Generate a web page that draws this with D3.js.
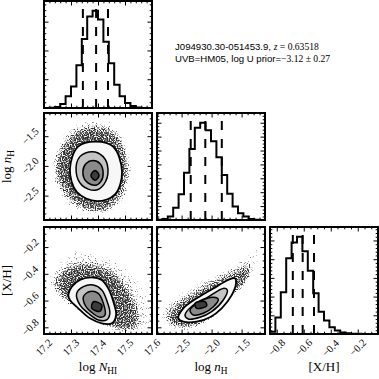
<!DOCTYPE html>
<html><head><meta charset="utf-8">
<script src="https://cdn.jsdelivr.net/npm/d3@7/dist/d3.min.js"></script>
<style>html,body{margin:0;padding:0;background:#fff}svg{display:block}</style>
</head><body>
<svg id="chart" width="379" height="379" xmlns="http://www.w3.org/2000/svg"></svg>
<script>
// ---------------- data ----------------
const rangeNHI = [17.2, 17.6];
const rangeNH  = [-2.91, -1.11];
const rangeXH  = [-0.85, -0.05];
const ticksNHI = [17.2, 17.3, 17.4, 17.5, 17.6];
const ticksNH  = [-2.5, -2.0, -1.5];
const ticksXH  = [-0.8, -0.6, -0.4, -0.2];
const labelsNHI = ["17.2", "17.3", "17.4", "17.5", "17.6"];
const labelsNH  = ["\u22122.5", "\u22122.0", "\u22121.5"];
const labelsXH  = ["\u22120.8", "\u22120.6", "\u22120.4", "\u22120.2"];
const minorStepNHI = 0.02, minorStepNH = 0.1, minorStepXH = 0.05;

// histogram counts (20 bins over each range)
const histNHI = [0, 3, 17, 68, 203, 372, 744, 1200, 1589, 1690, 1538, 1149, 777, 406, 203, 85, 34, 8, 2, 0];
const histNH  = [3, 15, 49, 175, 369, 681, 1021, 1327, 1400, 1293, 1133, 904, 647, 379, 194, 97, 49, 15, 5, 1];
const histXH  = [62, 442, 1118, 2028, 2444, 2600, 2210, 1690, 1092, 598, 364, 182, 91, 39, 21, 10, 5, 3, 0, 0];
const histTickStep = [500, 200, 500];
// 16th / 50th / 84th percentiles
const quantNHI = [17.344, 17.393, 17.437];
const quantNH  = [-2.348, -2.105, -1.83];
const quantXH  = [-0.681, -0.608, -0.524];

// 2-D panel shapes (data units): scatter extent, dense core, contour levels
const cloudA = [[17.395,-1.172],[17.481,-1.339],[17.531,-2.005],[17.506,-2.610],[17.407,-2.860],[17.271,-2.672],[17.222,-2.005],[17.284,-1.339]];
const denseA = [[17.391,-1.339],[17.469,-1.476],[17.512,-2.005],[17.481,-2.560],[17.401,-2.781],[17.296,-2.560],[17.241,-2.005],[17.303,-1.476]];
const levA1 = [[17.393,-1.593],[17.456,-1.677],[17.489,-2.094],[17.463,-2.478],[17.396,-2.593],[17.322,-2.442],[17.296,-2.060],[17.326,-1.677]];
const levA2 = [[17.378,-1.760],[17.419,-1.844],[17.437,-2.060],[17.422,-2.310],[17.389,-2.410],[17.341,-2.327],[17.319,-2.094],[17.333,-1.844]];
const levA3 = [[17.381,-1.910],[17.407,-1.960],[17.419,-2.110],[17.411,-2.260],[17.389,-2.327],[17.356,-2.260],[17.344,-2.094],[17.356,-1.960]];
const levA4 = [[17.389,-2.077],[17.404,-2.160],[17.389,-2.243],[17.374,-2.160]];

const cloudB = [[17.204,-0.446],[17.247,-0.296],[17.309,-0.197],[17.383,-0.222],[17.481,-0.296],[17.556,-0.421],[17.599,-0.572],[17.599,-0.820],[17.457,-0.833],[17.346,-0.721],[17.259,-0.607],[17.210,-0.496]];
const denseB = [[17.241,-0.458],[17.284,-0.358],[17.358,-0.322],[17.444,-0.371],[17.506,-0.496],[17.543,-0.646],[17.543,-0.807],[17.457,-0.820],[17.358,-0.708],[17.271,-0.583]];
const levB1 = [[17.290,-0.559],[17.303,-0.496],[17.333,-0.446],[17.377,-0.427],[17.414,-0.446],[17.438,-0.509],[17.457,-0.609],[17.467,-0.708],[17.451,-0.770],[17.414,-0.770],[17.370,-0.733],[17.327,-0.658],[17.296,-0.596]];
const levB2 = [[17.321,-0.546],[17.346,-0.496],[17.383,-0.484],[17.414,-0.521],[17.432,-0.596],[17.444,-0.695],[17.432,-0.745],[17.401,-0.745],[17.364,-0.695],[17.333,-0.633]];
const levB3 = [[17.346,-0.572],[17.370,-0.533],[17.401,-0.546],[17.420,-0.621],[17.426,-0.708],[17.407,-0.725],[17.377,-0.689],[17.352,-0.633]];
const levB4 = [[17.383,-0.609],[17.414,-0.633],[17.407,-0.681],[17.377,-0.656]];

const cloudC = [[-2.860,-0.646],[-2.693,-0.572],[-2.360,-0.471],[-1.916,-0.371],[-1.527,-0.272],[-1.249,-0.147],[-1.138,-0.048],[-1.138,-0.296],[-1.360,-0.446],[-1.638,-0.596],[-1.916,-0.721],[-2.194,-0.820],[-2.527,-0.840],[-2.805,-0.800],[-2.915,-0.721]];
const denseC = [[-2.693,-0.671],[-2.360,-0.559],[-1.916,-0.446],[-1.555,-0.371],[-1.360,-0.334],[-1.360,-0.446],[-1.638,-0.583],[-1.916,-0.708],[-2.249,-0.790],[-2.582,-0.796],[-2.749,-0.745]];
const levC1 = [[-2.555,-0.733],[-2.472,-0.658],[-2.249,-0.583],[-1.971,-0.509],[-1.722,-0.446],[-1.610,-0.434],[-1.593,-0.471],[-1.665,-0.559],[-1.832,-0.658],[-2.027,-0.725],[-2.249,-0.758],[-2.472,-0.758]];
const levC2 = [[-2.443,-0.708],[-2.304,-0.633],[-2.055,-0.572],[-1.805,-0.509],[-1.738,-0.521],[-1.805,-0.596],[-1.999,-0.683],[-2.194,-0.725],[-2.388,-0.738]];
const levC3 = [[-2.360,-0.671],[-2.194,-0.609],[-1.971,-0.576],[-1.889,-0.591],[-1.971,-0.646],[-2.139,-0.695],[-2.304,-0.708]];
const levC4 = [[-2.276,-0.621],[-2.110,-0.609],[-2.082,-0.639],[-2.249,-0.658]];

const titleLine1 = "J094930.30-051453.9, ";
const titleMath1 = ["z", " = 0.63518"];
const titleLine2 = "UVB=HM05, log U prior=";
const titleMath2 = "\u22123.12 \u00b1 0.27";

// ---------------- layout ----------------
const colX = [44, 157, 270], rowY = [1, 113, 227], W = 108, H = 107;
const serif = "'Liberation Serif','DejaVu Serif',serif";
const sans = "'Liberation Sans','DejaVu Sans',Arial,sans-serif";
const levelFill = ["#f7f7f7", "#c4c4c4", "#8a8a8a", "#3c3c3c"];

const ranges = [rangeNHI, rangeNH, rangeXH];
const majors = [ticksNHI, ticksNH, ticksXH];
const tlabels = [labelsNHI, labelsNH, labelsXH];
const minorSteps = [minorStepNHI, minorStepNH, minorStepXH];
const hists = [histNHI, histNH, histXH];
const quants = [quantNHI, quantNH, quantXH];

const svg = d3.select("#chart");
const defs = svg.append("defs");

const f = defs.append("filter").attr("id", "speck").attr("x", -0.3).attr("y", -0.3).attr("width", 1.6).attr("height", 1.6)
  .attr("color-interpolation-filters", "sRGB");
f.append("feGaussianBlur").attr("in", "SourceGraphic").attr("stdDeviation", 3.5).attr("result", "blur");
f.append("feTurbulence").attr("type", "fractalNoise").attr("baseFrequency", 0.85).attr("numOctaves", 1).attr("seed", 5).attr("result", "noise");
f.append("feColorMatrix").attr("in", "noise").attr("type", "matrix")
  .attr("values", "0 0 0 0 0  0 0 0 0 0  0 0 0 0 0  1 0 0 0 0").attr("result", "na");
f.append("feComposite").attr("in", "na").attr("in2", "blur").attr("operator", "arithmetic")
  .attr("k1", 0).attr("k2", 5).attr("k3", 5).attr("k4", -6.2);

const xs = ranges.map((r, i) => d3.scaleLinear().domain(r).range([colX[i], colX[i] + W]));
const ys = ranges.map((r, j) => d3.scaleLinear().domain(r).range([rowY[j] + H, rowY[j]]));

function minorVals(range, step, maj) {
  const out = [];
  const s = Math.ceil(range[0] / step - 1e-6), e = Math.floor(range[1] / step + 1e-6);
  for (let k = s; k <= e; k++) {
    const v = +(k * step).toFixed(6);
    if (!maj.some(m => Math.abs(m - v) < step * 0.01)) out.push(v);
  }
  return out;
}

function drawTicks(g, xScale, yScale, xMaj, xMin, yMaj, yMin, x0, y0) {
  const specs = [
    [d3.axisBottom, xScale, `translate(0,${y0 + H})`, xMaj, xMin],
    [d3.axisTop, xScale, `translate(0,${y0})`, xMaj, xMin],
    [d3.axisLeft, yScale, `translate(${x0},0)`, yMaj, yMin],
    [d3.axisRight, yScale, `translate(${x0 + W},0)`, yMaj, yMin]
  ];
  specs.forEach(([axf, sc, tr, maj, mnr]) => {
    [[maj, 4.5], [mnr, 2.3]].forEach(([vals, sz]) => {
      const a = g.append("g").attr("transform", tr)
        .call(axf(sc).tickValues(vals).tickSize(-sz).tickFormat(""));
      a.select(".domain").remove();
      a.selectAll("line").attr("stroke", "#000").attr("stroke-width", 1);
    });
  });
}

function placeRotated(parent, txt, mode, x, y) {
  const g = parent.append("g");
  const t = g.append("text").attr("transform", "rotate(-45)")
    .attr("font-family", serif).attr("font-size", 10.5).attr("fill", "#000").text(txt);
  const r = t.node().getBoundingClientRect();
  let tx, ty;
  if (mode === "x") { tx = x - (r.left + r.width / 2); ty = y - r.top; }
  else { tx = x - r.right; ty = y - (r.top + r.height / 2); }
  g.attr("transform", `translate(${tx},${ty})`);
}

const smooth = d3.line().curve(d3.curveCatmullRomClosed.alpha(0.5));

for (let i = 0; i < 3; i++) {
  for (let j = 0; j <= i; j++) {
    const x0 = colX[j], y0 = rowY[i];
    const g = svg.append("g");
    const cid = `clip${i}${j}`;
    defs.append("clipPath").attr("id", cid).append("rect").attr("x", x0).attr("y", y0).attr("width", W).attr("height", H);
    const inner = g.append("g").attr("clip-path", `url(#${cid})`);
    const xScale = xs[j];
    let yScale, yMaj, yMin;
    if (i === j) {
      const counts = hists[i];
      const mx = d3.max(counts);
      yScale = d3.scaleLinear().domain([0, 1.1 * mx]).range([y0 + H, y0]);
      const step = histTickStep[i];
      yMaj = d3.range(0, 1.1 * mx, step);
      const ms = (step === 200) ? step / 4 : step / 5;
      yMin = d3.range(0, 1.1 * mx, ms).filter(v => Math.abs(v / step - Math.round(v / step)) > 1e-6);
      const r = ranges[i];
      const bw = (r[1] - r[0]) / counts.length;
      const pts = [[r[0], 0]];
      counts.forEach((c, k) => { pts.push([r[0] + k * bw, c]); });
      pts.push([r[1], counts[counts.length - 1]]);
      pts.push([r[1], 0]);
      const stepLine = d3.line().x(d => xScale(d[0])).y(d => yScale(d[1])).curve(d3.curveStepAfter);
      inner.append("path").attr("d", stepLine(pts)).attr("fill", "none").attr("stroke", "#000").attr("stroke-width", 2);
      quants[i].forEach(q => {
        inner.append("line").attr("x1", xScale(q)).attr("x2", xScale(q)).attr("y1", y0 + H).attr("y2", y0)
          .attr("stroke", "#000").attr("stroke-width", 2).attr("stroke-dasharray", "9,9");
      });
    } else {
      yScale = ys[i];
      yMaj = majors[i]; yMin = minorVals(ranges[i], minorSteps[i], majors[i]);
      const key = (i === 1 && j === 0) ? "A" : (i === 2 && j === 0) ? "B" : "C";
      const sets = {
        A: [cloudA, denseA, [levA1, levA2, levA3, levA4]],
        B: [cloudB, denseB, [levB1, levB2, levB3, levB4]],
        C: [cloudC, denseC, [levC1, levC2, levC3, levC4]]
      }[key];
      const toPx = ring => ring.map(p => [xScale(p[0]), yScale(p[1])]);
      const cg = inner.append("g").attr("opacity", 0.8).append("g").attr("filter", "url(#speck)");
      cg.append("path").attr("d", smooth(toPx(sets[0]))).attr("fill", "#000").attr("fill-opacity", 0.62);
      cg.append("path").attr("d", smooth(toPx(sets[1]))).attr("fill", "#000").attr("fill-opacity", 0.75);
      sets[2].forEach((ring, k) => {
        inner.append("path").attr("d", smooth(toPx(ring))).attr("fill", levelFill[k])
          .attr("stroke", "#000").attr("stroke-width", k === 0 ? 1.8 : 1.5);
      });
    }
    drawTicks(g, xScale, yScale, majors[j], minorVals(ranges[j], minorSteps[j], majors[j]), yMaj, yMin, x0, y0);
    g.append("rect").attr("x", x0).attr("y", y0).attr("width", W).attr("height", H)
      .attr("fill", "none").attr("stroke", "#000").attr("stroke-width", 2);
    if (i === 2) {
      majors[j].forEach((v, k) => placeRotated(g, tlabels[j][k], "x", xScale(v), y0 + H + 3));
    }
    if (j === 0 && i > 0) {
      majors[i].forEach((v, k) => placeRotated(g, tlabels[i][k], "y", x0 - 3, yScale(v)));
    }
  }
}

function nameLabel(sel, idx) {
  if (idx === 0) {
    sel.append("tspan").text("log ");
    sel.append("tspan").attr("font-style", "italic").text("N");
    sel.append("tspan").attr("font-size", "0.72em").attr("dy", 3).text("HI");
  } else if (idx === 1) {
    sel.append("tspan").text("log ");
    sel.append("tspan").attr("font-style", "italic").text("n");
    sel.append("tspan").attr("font-size", "0.72em").attr("dy", 3).text("H");
  } else {
    sel.append("tspan").text("[X/H]");
  }
}
for (let j = 0; j < 3; j++) {
  const t = svg.append("text").attr("x", colX[j] + W / 2).attr("y", 371).attr("text-anchor", "middle")
    .attr("font-family", serif).attr("font-size", 13).attr("fill", "#000");
  nameLabel(t, j);
}
for (let i = 1; i < 3; i++) {
  const t = svg.append("text").attr("transform", `translate(11,${rowY[i] + H / 2}) rotate(-90)`).attr("text-anchor", "middle")
    .attr("font-family", serif).attr("font-size", 13).attr("fill", "#000");
  nameLabel(t, i);
}

const a1 = svg.append("text").attr("x", 175).attr("y", 50).attr("font-family", sans).attr("font-size", 9.6).attr("fill", "#000");
a1.append("tspan").text(titleLine1);
a1.append("tspan").attr("font-family", serif).attr("font-style", "italic").text(titleMath1[0]);
a1.append("tspan").attr("font-family", serif).text(titleMath1[1]);
const a2 = svg.append("text").attr("x", 175).attr("y", 62).attr("font-family", sans).attr("font-size", 9.6).attr("fill", "#000");
a2.append("tspan").text(titleLine2);
a2.append("tspan").attr("font-family", serif).text(titleMath2);
</script>
</body></html>
